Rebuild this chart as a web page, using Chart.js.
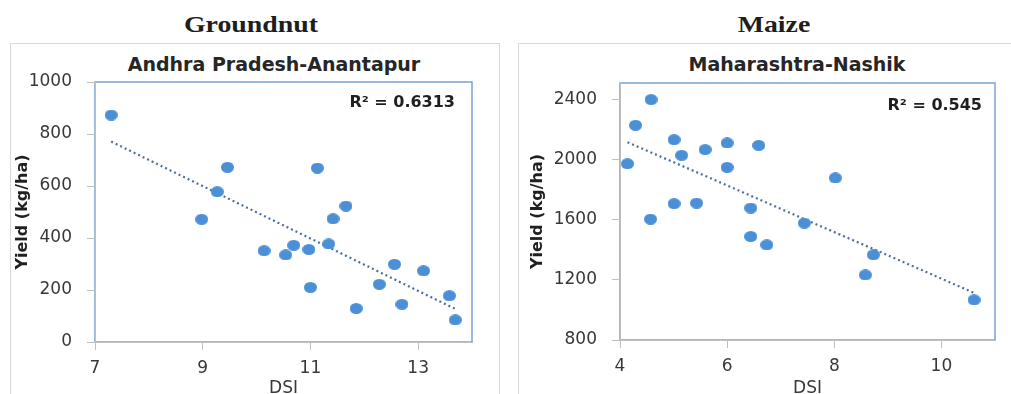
<!DOCTYPE html>
<html>
<head>
<meta charset="utf-8">
<script src="https://cdn.jsdelivr.net/npm/chart.js@4.4.1/dist/chart.umd.min.js"></script>
<style>
  body { margin: 0; width: 1011px; height: 394px; overflow: hidden; position: relative; background: #fff; }
  .box { position: absolute; border: 1px solid #d9d9d9; }
  .crop { position: absolute; top: 12px; font: bold 24px "Liberation Serif", serif; color: #1e1e1e; line-height: 24px;
          white-space: nowrap; transform: translateX(-50%) scaleX(1.16); }
  .sub { position: absolute; top: 55px; font: bold 19px "DejaVu Sans", sans-serif; color: #262626; line-height: 19px;
         white-space: nowrap; transform: translateX(-50%); }
  canvas { position: absolute; top: 0; }
</style>
</head>
<body>
<div class="box" style="left:10px; top:43px; width:488px; height:400px"></div>
<div class="box" style="left:518px; top:43px; width:520px; height:400px"></div>
<div class="crop" style="left:251px">Groundnut</div>
<div class="crop" style="left:774px">Maize</div>
<div class="sub" style="left:274px">Andhra Pradesh-Anantapur</div>
<div class="sub" style="left:797px">Maharashtra-Nashik</div>
<canvas id="groundnut" width="505" height="420" style="left:0"></canvas>
<canvas id="maize" width="506" height="420" style="left:505px"></canvas>
<script>
// Groundnut, Andhra Pradesh-Anantapur
const groundnutDsi = [7.30, 9.46, 9.27, 8.98, 11.13, 11.66, 11.42, 11.34, 10.14, 10.54,
                      10.69, 10.97, 11.00, 11.85, 12.28, 12.56, 12.70, 13.10, 13.58, 13.69];
const groundnutYield = [873, 672, 578, 472, 669, 523, 474, 377, 351, 335,
                        372, 356, 210, 129, 222, 299, 145, 274, 178, 85];
const groundnutXTicks = [7, 9, 11, 13];
const groundnutYTicks = [0, 200, 400, 600, 800, 1000];

// Maize, Maharashtra-Nashik
const maizeDsi = [4.58, 4.29, 4.14, 5.01, 5.15, 5.59, 6.00, 6.59, 6.00, 8.02,
                  5.01, 5.43, 6.44, 4.57, 7.44, 6.44, 6.74, 8.73, 8.58, 10.61];
const maizeYield = [2400, 2229, 1973, 2133, 2029, 2067, 2111, 2095, 1949, 1878,
                    1707, 1711, 1678, 1604, 1578, 1489, 1433, 1367, 1233, 1067];
const maizeXTicks = [4, 6, 8, 10];
const maizeYTicks = [800, 1200, 1600, 2000, 2400];

const dotColor = '#4b8fd6';
const axisColor = '#bfbfbf';
const tickColor = '#383838';

// slightly wider than tall, like the reference markers
const dot = document.createElement('canvas');
dot.width = 13; dot.height = 11;
const dctx = dot.getContext('2d');
dctx.fillStyle = dotColor;
dctx.beginPath();
dctx.ellipse(6.5, 5.5, 6.5, 5.5, 0, 0, Math.PI * 2);
dctx.fill();

// least squares trend line over the data range
function trend(xs, ys) {
  const n = xs.length;
  const mx = xs.reduce((a, b) => a + b, 0) / n;
  const my = ys.reduce((a, b) => a + b, 0) / n;
  let sxy = 0, sxx = 0;
  for (let i = 0; i < n; i++) { sxy += (xs[i] - mx) * (ys[i] - my); sxx += (xs[i] - mx) ** 2; }
  const b = sxy / sxx, a = my - b * mx;
  const x0 = Math.min(...xs), x1 = Math.max(...xs);
  return [{ x: x0, y: a + b * x0 }, { x: x1, y: a + b * x1 }];
}

const plotBorder = {
  id: 'plotBorder',
  beforeDraw(chart) {
    const { ctx, chartArea: c } = chart;
    ctx.save();
    ctx.strokeStyle = '#7ba3d4';
    ctx.lineWidth = 1.5;
    ctx.strokeRect(c.left, c.top, c.right - c.left, c.bottom - c.top);
    ctx.restore();
  }
};

const rsq = {
  id: 'rsq',
  afterDatasetsDraw(chart, args, opts) {
    const { ctx, chartArea: c } = chart;
    ctx.save();
    ctx.font = 'bold 16px "DejaVu Sans"';
    ctx.fillStyle = '#1f1f1f';
    ctx.textAlign = 'right';
    ctx.textBaseline = 'middle';
    ctx.fillText(opts.text, c.right - opts.dx, c.top + opts.dy);
    ctx.restore();
  }
};

function makeChart(id, xs, ys, xTicks, yTicks, xr, yr, geo, label) {
  new Chart(document.getElementById(id), {
    type: 'scatter',
    data: {
      datasets: [{
        data: xs.map((x, i) => ({ x: x, y: ys[i] })),
        pointStyle: dot,
        pointRadius: 6
      }, {
        type: 'line',
        data: trend(xs, ys),
        borderColor: '#4d6f9c',
        borderWidth: 2.2,
        borderDash: [2, 3],
        pointRadius: 0,
        fill: false
      }]
    },
    options: {
      responsive: false,
      animation: false,
      events: [],
      layout: { padding: { left: 0, top: geo.top, right: geo.right, bottom: 0 } },
      plugins: {
        legend: { display: false },
        tooltip: { enabled: false },
        rsq: label
      },
      scales: {
        x: {
          type: 'linear', min: xr[0], max: xr[1],
          afterFit: s => { s.height = geo.xh; },
          afterBuildTicks: s => { s.ticks = xTicks.map(v => ({ value: v })); },
          grid: { drawOnChartArea: false, tickLength: 8, color: axisColor },
          border: { color: axisColor },
          ticks: { color: tickColor, font: { family: 'DejaVu Sans', size: 17 }, padding: 8,
                   callback: v => String(v) },
          title: { display: true, text: 'DSI', color: tickColor,
                   font: { family: 'DejaVu Sans', size: 17 }, padding: { top: 0, bottom: 21 } }
        },
        y: {
          min: yr[0], max: yr[1],
          afterFit: s => { s.width = geo.yw; },
          afterBuildTicks: s => { s.ticks = yTicks.map(v => ({ value: v })); },
          grid: { drawOnChartArea: false, tickLength: 8, color: axisColor },
          border: { color: axisColor },
          ticks: { color: tickColor, font: { family: 'DejaVu Sans', size: 17 }, padding: 15,
                   callback: v => String(v) },
          title: { display: true, text: 'Yield (kg/ha)', color: '#1f1f1f',
                   font: { family: 'DejaVu Sans', size: 16, weight: 'bold' }, padding: { top: geo.tp, bottom: 0 } }
        }
      }
    },
    plugins: [plotBorder, rsq]
  });
}

makeChart('groundnut', groundnutDsi, groundnutYield, groundnutXTicks, groundnutYTicks,
  [7, 14], [0, 1000], { top: 82, right: 33, xh: 78, yw: 95, tp: 13 },
  { text: 'R² = 0.6313', dx: 17, dy: 21 });

makeChart('maize', maizeDsi, maizeYield, maizeXTicks, maizeYTicks,
  [4, 11], [800, 2510], { top: 83, right: 16, xh: 80, yw: 115, tp: 23 },
  { text: 'R² = 0.545', dx: 13, dy: 23 });
</script>
</body>
</html>
